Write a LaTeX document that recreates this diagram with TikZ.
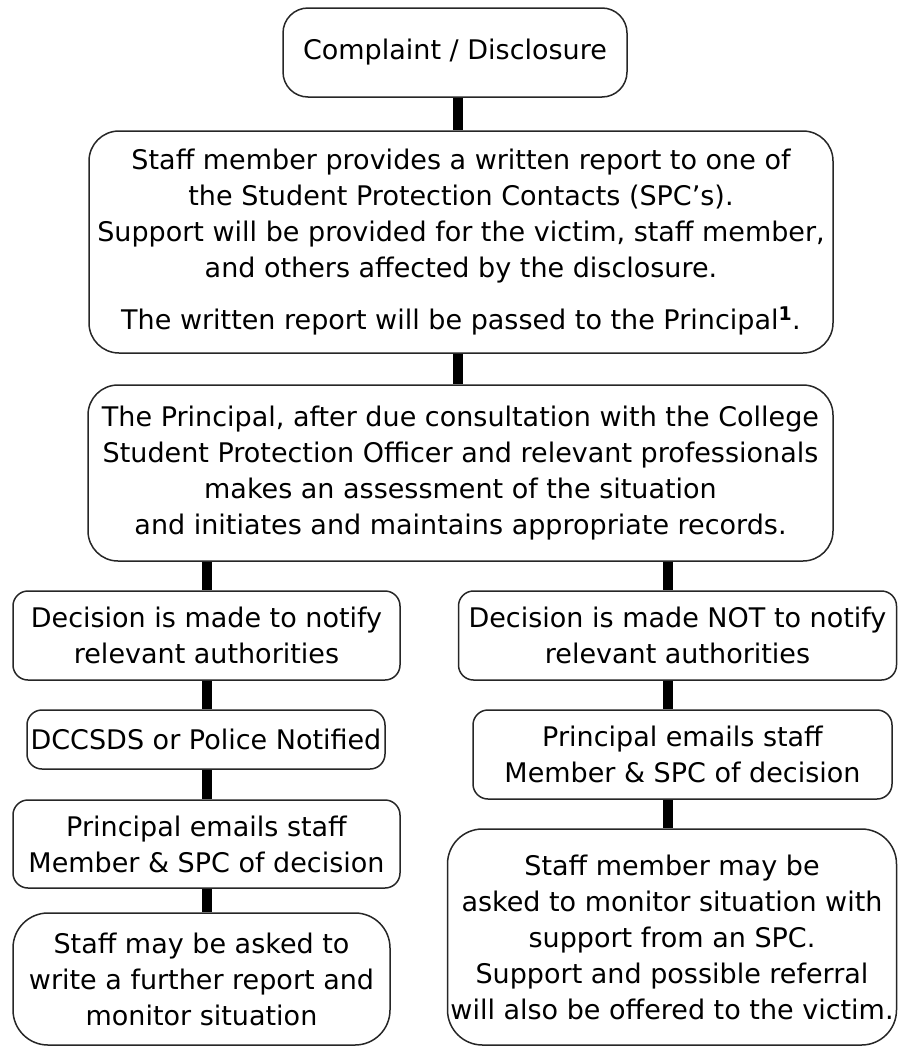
\documentclass[tikz,border=0pt]{standalone}
\usepackage{fontspec}
\setmainfont{DejaVu Sans}
\usetikzlibrary{calc}
\begin{document}
\begin{tikzpicture}[x=1pt,y=-1pt,
  box/.style={draw=black!85, line width=1.5pt, fill=white, align=center, inner sep=0pt,
    font=\fontsize{27}{36}\selectfont},
  conn/.style={line width=10pt, black}]
\useasboundingbox (0,0) rectangle (899,1047);
\node[box, rounded corners=25pt, minimum width=344pt, minimum height=89pt] (c) at (455,52.5) {Complaint / Disclosure};
\node[box, rounded corners=30pt, minimum width=744pt, minimum height=222pt] (s) at (461,242)
 {Staff member provides a written report to one of\\ the Student Protection Contacts (SPC’s).\\ Support will be provided for the victim, staff member,\\ and others affected by the disclosure.\\[16pt] The written report will be passed to the Principal\textsuperscript{\textbf{1}}.};
\node[box, rounded corners=30pt, minimum width=745pt, minimum height=176pt] (p) at (460.5,473)
 {The Principal, after due consultation with the College\\ Student Protection Officer and relevant professionals\\ makes an assessment of the situation\\ and initiates and maintains appropriate records.};
\node[box, rounded corners=15pt, minimum width=387pt, minimum height=89pt] (dl) at (206.5,635.5)
 {Decision is made to notify\\ relevant authorities};
\node[box, rounded corners=15pt, minimum width=438pt, minimum height=89pt] (dr) at (677.5,635.5)
 {Decision is made NOT to notify\\ relevant authorities};
\node[box, rounded corners=15pt, minimum width=358pt, minimum height=59pt] (n) at (206,739.5)
 {DCCSDS or Police Notified};
\node[box, rounded corners=15pt, minimum width=419pt, minimum height=89pt] (er) at (682.5,754.5)
 {Principal emails staff\\ Member \& SPC of decision};
\node[box, rounded corners=15pt, minimum width=387pt, minimum height=88pt] (el) at (206.5,844)
 {Principal emails staff\\ Member \& SPC of decision};
\node[box, rounded corners=35pt, minimum width=377pt, minimum height=132pt] (sl) at (201.5,979)
 {Staff may be asked to\\ write a further report and\\ monitor situation};
\node[box, rounded corners=35pt, minimum width=449pt, minimum height=216pt] (sr) at (672,937)
 {Staff member may be\\ asked to monitor situation with\\ support from an SPC.\\ Support and possible referral\\ will also be offered to the victim.};
\coordinate (xm) at (458,0);
\coordinate (xl) at (207,0);
\coordinate (xr) at (668,0);
\draw[conn] (c.south -| xm) -- (s.north -| xm);
\draw[conn] (s.south -| xm) -- (p.north -| xm);
\draw[conn] (p.south -| xl) -- (dl.north -| xl);
\draw[conn] (p.south -| xr) -- (dr.north -| xr);
\draw[conn] (dl.south -| xl) -- (n.north -| xl);
\draw[conn] (n.south -| xl) -- (el.north -| xl);
\draw[conn] (el.south -| xl) -- (sl.north -| xl);
\draw[conn] (dr.south -| xr) -- (er.north -| xr);
\draw[conn] (er.south -| xr) -- (sr.north -| xr);
\end{tikzpicture}
\end{document}
